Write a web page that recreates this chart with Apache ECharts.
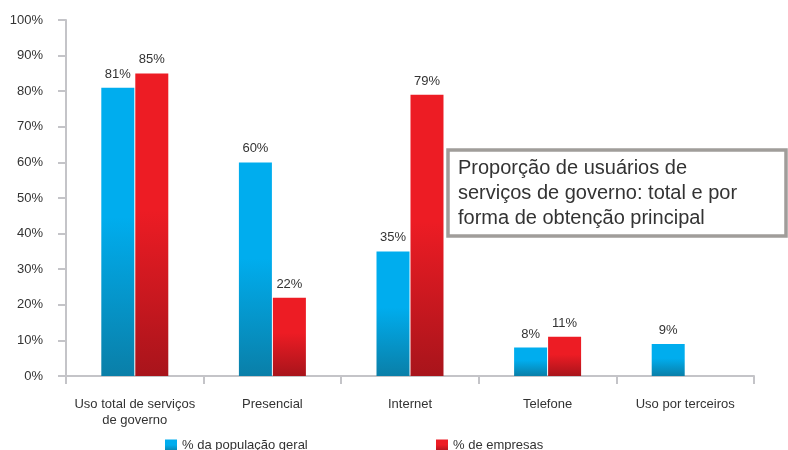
<!DOCTYPE html>
<html><head><meta charset="utf-8">
<script src="https://cdn.jsdelivr.net/npm/echarts@6/dist/echarts.min.js"></script>
<style>html,body{margin:0;padding:0;background:#fff}#c{width:788px;height:450px}</style>
</head><body><div id="c"></div>
<script>
const categories = ['Uso total de serviços\nde governo', 'Presencial', 'Internet', 'Telefone', 'Uso por terceiros'];
const populacao = [81, 60, 35, 8, 9];
const empresas = [85, 22, 79, 11, null];
const yTicks = [0, 10, 20, 30, 40, 50, 60, 70, 80, 90, 100];
const seriesNames = ['% da população geral', '% de empresas'];
const titleText = 'Proporção de usuários de\nserviços de governo: total e por\nforma de obtenção principal';

const chart = echarts.init(document.getElementById('c'));
const grad = (a, b) => new echarts.graphic.LinearGradient(0, 0, 0, 1, [
  {offset: 0, color: a}, {offset: 0.45, color: a}, {offset: 1, color: b}]);
const font = 'Liberation Sans, Arial, sans-serif';
const axisColor = '#c4c4c8';
const legendStyle = {itemWidth: 12, itemHeight: 12, itemGap: 5, padding: 0, icon: 'rect',
  textStyle: {fontSize: 13, color: '#333', fontFamily: font, padding: [0, 0, 0, 0]}};
chart.setOption({
  animation: false,
  textStyle: {fontFamily: font},
  grid: {left: 66, right: 34, top: 20, bottom: 74},
  legend: [
    Object.assign({data: [seriesNames[0]], left: 165, top: 439}, legendStyle),
    Object.assign({data: [seriesNames[1]], left: 436, top: 439}, legendStyle)
  ],
  xAxis: {
    type: 'category', data: categories,
    axisLine: {lineStyle: {color: axisColor, width: 2}},
    axisTick: {show: true, length: 8, lineStyle: {color: axisColor, width: 2}},
    axisLabel: {fontSize: 13, color: '#333', margin: 20, lineHeight: 16, interval: 0}
  },
  yAxis: {
    type: 'value', min: yTicks[0], max: yTicks[yTicks.length - 1], interval: 10,
    axisLine: {show: true, lineStyle: {color: axisColor, width: 2}},
    axisTick: {show: true, length: 8, lineStyle: {color: axisColor, width: 2}},
    splitLine: {show: false},
    axisLabel: {fontSize: 13, color: '#333', margin: 23, formatter: v => v + '%'}
  },
  series: [
    {name: seriesNames[0], type: 'bar', data: populacao, barWidth: 33, barGap: '3%',
     itemStyle: {color: grad('#00adee', '#0a7fa8')},
     label: {show: true, position: 'top', distance: 7, fontSize: 13, color: '#333', formatter: '{c}%'}},
    {name: seriesNames[1], type: 'bar', data: empresas, barWidth: 33,
     itemStyle: {color: grad('#ed1c24', '#a8141b')},
     label: {show: true, position: 'top', distance: 7, fontSize: 13, color: '#333', formatter: '{c}%'}}
  ],
  graphic: [
    {type: 'rect', shape: {x: 448, y: 150, width: 338, height: 86},
     style: {fill: '#fff', stroke: '#a09d9a', lineWidth: 3.5}},
    {type: 'text', left: 458, top: 156,
     style: {text: titleText, lineHeight: 25, fill: '#333', font: '20px ' + font}}
  ]
});
</script></body></html>
